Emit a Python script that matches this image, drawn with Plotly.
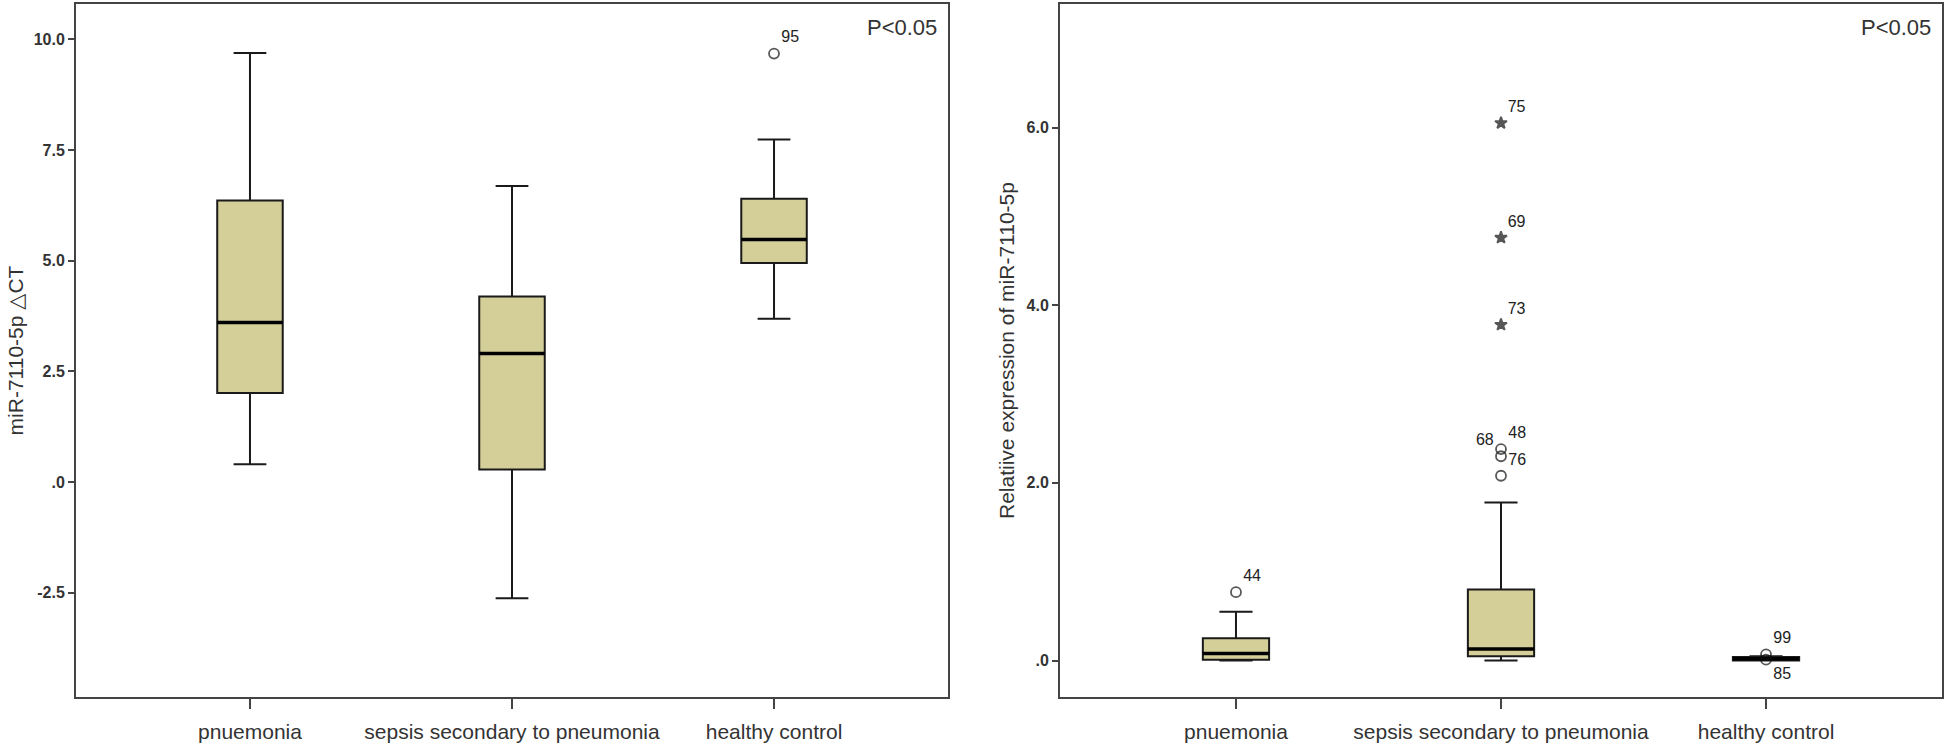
import plotly.graph_objects as go

# groups on the x axis (spelling kept as in the original figure)
categories = ["pnuemonia", "sepsis secondary to pneumonia", "healthy control"]

# left panel: miR-7110-5p delta CT
dct_lower = [0.40, -2.63, 3.69]
dct_q1 = [2.01, 0.28, 4.95]
dct_median = [3.60, 2.90, 5.48]
dct_q3 = [6.36, 4.19, 6.40]
dct_upper = [9.69, 6.69, 7.74]
dct_out_group = ["healthy control"]
dct_out_value = [9.68]
dct_out_id = ["95"]
dct_out_symbol = ["circle-open"]
dct_out_textpos = ["top right"]
dct_ticks = [-2.5, 0, 2.5, 5.0, 7.5, 10.0]
dct_ticktext = ["-2.5", ".0", "2.5", "5.0", "7.5", "10.0"]

# right panel: relative expression of miR-7110-5p
rel_lower = [0.00, 0.00, 0.00]
rel_q1 = [0.01, 0.05, 0.00]
rel_median = [0.08, 0.13, 0.02]
rel_q3 = [0.25, 0.80, 0.04]
rel_upper = [0.55, 1.78, 0.05]
rel_out_group = ["pnuemonia",
                 "sepsis secondary to pneumonia", "sepsis secondary to pneumonia",
                 "sepsis secondary to pneumonia", "sepsis secondary to pneumonia",
                 "sepsis secondary to pneumonia", "sepsis secondary to pneumonia",
                 "healthy control", "healthy control"]
rel_out_value = [0.77, 6.05, 4.76, 3.78, 2.38, 2.30, 2.08, 0.07, 0.01]
rel_out_id = ["44", "75", "69", "73", "48", "68", "76", "99", "85"]
rel_out_symbol = ["circle-open", "star", "star", "star", "circle-open",
                  "circle-open", "circle-open", "circle-open", "circle-open"]
rel_out_textpos = ["top right", "top right", "top right", "top right", "top right",
                   "top left", "top right", "top right", "bottom right"]
rel_ticks = [0, 2.0, 4.0, 6.0]
rel_ticktext = [".0", "2.0", "4.0", "6.0"]

BOX_FILL = "#D4CF98"
FRAME = "#444444"
TEXT = "#333333"
SANS = "Liberation Sans, Arial, DejaVu Sans, sans-serif"

fig = go.Figure()


def add_panel(xa, ya, lower, q1, med, q3, upper, og, ov, oid, osym, opos):
    # outliers first so the boxes sit on top of anything hidden behind them
    sizes = [9 if s == "star" else 10 for s in osym]
    fig.add_trace(go.Scatter(
        x=og, y=ov, text=oid, mode="markers+text", textposition=opos,
        marker=dict(symbol=osym, size=sizes, color="#111111",
                    line=dict(color="#111111", width=1.8)),
        textfont=dict(family=SANS, size=16, color="#222222"),
        xaxis=xa, yaxis=ya, hoverinfo="skip"))
    fig.add_trace(go.Box(
        x=categories, q1=q1, median=med, q3=q3,
        lowerfence=lower, upperfence=upper,
        width=0.25, whiskerwidth=0.5, fillcolor=BOX_FILL,
        line=dict(color="#1a1a1a", width=2),
        boxpoints=False, xaxis=xa, yaxis=ya))
    # thicker median line: degenerate box drawn at the median
    fig.add_trace(go.Box(
        x=categories, q1=med, median=med, q3=med,
        lowerfence=med, upperfence=med,
        width=0.25, whiskerwidth=0.0, fillcolor="rgba(0,0,0,0)",
        line=dict(color="#000000", width=3.5),
        boxpoints=False, xaxis=xa, yaxis=ya, hoverinfo="skip"))


add_panel("x", "y", dct_lower, dct_q1, dct_median, dct_q3, dct_upper,
          dct_out_group, dct_out_value, dct_out_id, dct_out_symbol, dct_out_textpos)
add_panel("x2", "y2", rel_lower, rel_q1, rel_median, rel_q3, rel_upper,
          rel_out_group, rel_out_value, rel_out_id, rel_out_symbol, rel_out_textpos)

W, H = 1946, 748
xcommon = dict(type="category", categoryorder="array", categoryarray=categories,
               range=[-0.664, 2.664], showgrid=False, zeroline=False, automargin=False,
               showline=True, mirror=True, linecolor=FRAME, linewidth=2,
               ticks="outside", ticklen=10, tickwidth=2, tickcolor=FRAME,
               ticklabelstandoff=5,
               tickfont=dict(family=SANS, size=21, color=TEXT))
ycommon = dict(showgrid=False, zeroline=False, showline=True, mirror=True,
               automargin=False, linecolor=FRAME, linewidth=2, ticks="outside",
               ticklen=6, tickwidth=2, tickcolor=FRAME,
               tickfont=dict(family=SANS, size=16, color=TEXT, weight="bold"),
               domain=[51 / H, 744 / H])

fig.update_layout(
    width=W, height=H,
    margin=dict(l=0, r=0, t=0, b=0),
    paper_bgcolor="white", plot_bgcolor="white",
    showlegend=False,
    xaxis=dict(xcommon, domain=[76 / W, 948 / W]),
    xaxis2=dict(xcommon, domain=[1060 / W, 1942 / W], anchor="y2"),
    yaxis=dict(ycommon, range=[-4.86, 10.8], tickvals=dct_ticks, ticktext=dct_ticktext,
               title=dict(text="miR-7110-5p △CT", standoff=4,
                          font=dict(family=SANS, size=21, color=TEXT))),
    yaxis2=dict(ycommon, range=[-0.41, 7.39], tickvals=rel_ticks, ticktext=rel_ticktext,
                anchor="x2",
                title=dict(text="Relatiive expression of miR-7110-5p", standoff=6,
                           font=dict(family=SANS, size=21, color=TEXT))),
)

for xr, yr in [("x", "y"), ("x2", "y2")]:
    fig.add_annotation(text="P<0.05", showarrow=False,
                       xref=xr + " domain", yref=yr + " domain", x=1, y=1,
                       xanchor="right", yanchor="top", xshift=-9, yshift=-9,
                       font=dict(family=SANS, size=22, color=TEXT))

# page body has a default 8px margin; drop it so the figure fills the window
fig.write_html("out.html", config={"displayModeBar": False},
               post_script="document.body.style.margin='0';")
